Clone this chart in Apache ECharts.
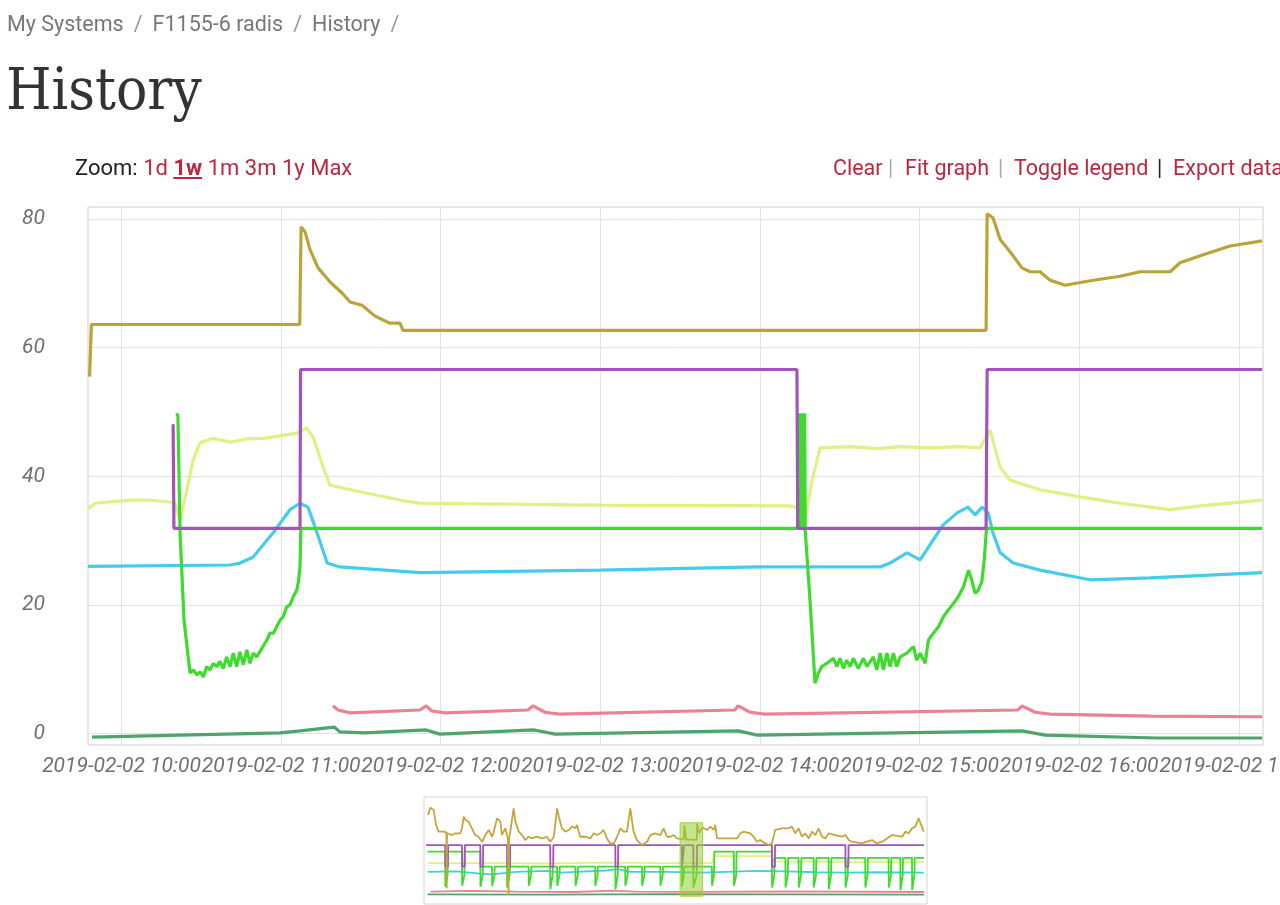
<!DOCTYPE html>
<html>
<head>
<meta charset="utf-8">
<script src="https://cdn.jsdelivr.net/npm/echarts@6/dist/echarts.min.js"></script>
<style>
html,body{margin:0;padding:0;width:1280px;height:905px;overflow:hidden;background:#fff;}
#chart{position:absolute;left:0;top:0;width:1280px;height:905px;}
.hdr{position:absolute;white-space:nowrap;font-family:Roboto,"Noto Sans",sans-serif;z-index:2;}
#crumb{left:7px;top:12px;font-size:21.5px;line-height:24px;color:#777;}
#crumb .sep{color:#999;margin:0 10px;}
#title{left:6px;top:60px;font-family:"DejaVu Serif Condensed","DejaVu Serif",serif;font-stretch:condensed;font-size:58px;line-height:58px;color:#333;}
#zoom{left:75px;top:156px;font-size:22px;line-height:24px;color:#222;}
#zoom a{color:#b8283f;text-decoration:none;}
#zoom a.on{text-decoration:underline;font-weight:bold;}
.lnk{color:#b8283f;}
.bar{color:#aaa;}
.bar2{color:#222;}
.r{top:156px;font-size:21.5px;line-height:24px;}
</style>
</head>
<body>
<div id="chart"></div>
<div class="hdr" id="crumb">My Systems<span class="sep">/</span>F1155-6 radis<span class="sep">/</span>History<span class="sep">/</span></div>
<div class="hdr" id="title">History</div>
<div class="hdr" id="zoom">Zoom: <a>1d</a> <a class="on">1w</a> <a>1m</a> <a>3m</a> <a>1y</a> <a>Max</a></div>
<div class="hdr r lnk" style="left:833px">Clear</div>
<div class="hdr r bar" style="left:888px">|</div>
<div class="hdr r lnk" style="left:905px">Fit graph</div>
<div class="hdr r bar" style="left:998px">|</div>
<div class="hdr r lnk" style="left:1014px">Toggle legend</div>
<div class="hdr r bar2" style="left:1157px">|</div>
<div class="hdr r lnk" style="left:1173px">Export data</div>
<script>
// ---------- main view data (time of day, value) ----------
const xTickHours = [10, 11, 12, 13, 14, 15, 16, 17];
const yTickValues = [0, 20, 40, 60, 80];
const dateLabel = '2019-02-02';

const goldSeries = [
 ['09:48:00',55.5],['09:48:40',63.6],['11:07:00',63.6],['11:07:30',78.8],['11:09:00',78.0],['11:10:54',75.2],
 ['11:13:54',72.4],['11:18:24',70.2],['11:22:54',68.5],['11:25:54',67.1],['11:30:24',66.6],['11:35:18',64.9],
 ['11:40:54',63.8],['11:44:42',63.8],['11:45:48',62.7],['15:25:00',62.7],['15:25:24',80.8],['15:27:36',80.2],
 ['15:30:18',76.8],['15:34:00',74.9],['15:38:30',72.4],['15:41:30',71.8],['15:45:18',71.8],['15:49:00',70.5],
 ['15:54:42',69.7],['16:04:06',70.4],['16:15:24',71.1],['16:22:54',71.8],['16:34:12',71.8],['16:37:54',73.2],
 ['16:45:30',74.3],['16:56:42',75.8],['17:08:48',76.6]
];
const purpleSeries = [
 ['10:19:24',48.1],['10:19:42',31.9],['11:07:06',31.9],['11:07:18',56.6],['14:13:54',56.6],['14:14:12',31.9],
 ['15:25:00',31.9],['15:25:24',56.6],['17:08:48',56.6]
];
const yellowSeries = [
 ['09:47:24',34.9],['09:50:00',35.8],['10:03:12',36.3],['10:10:42',36.3],['10:18:12',36.0],['10:20:06',35.8],
 ['10:22:00',33.2],['10:24:12',37.1],['10:26:54',42.5],['10:29:30',45.2],['10:34:24',45.9],['10:40:48',45.3],
 ['10:47:00',45.8],['10:53:12',45.9],['11:06:00',46.7],['11:09:42',47.5],['11:12:00',46.1],['11:15:48',41.4],
 ['11:18:24',38.6],['11:29:42',37.6],['11:44:42',36.3],['11:52:12',35.8],['12:59:54',35.5],['14:11:18',35.4],
 ['14:13:54',35.1],['14:16:12',31.6],['14:19:36',39.4],['14:22:36',44.4],['14:33:54',44.6],['14:44:00',44.3],
 ['14:52:42',44.6],['15:04:00',44.4],['15:15:12',44.6],['15:22:42',44.4],['15:26:30',47.2],['15:30:18',41.4],
 ['15:34:00',39.4],['15:45:18',37.9],['16:00:18',36.8],['16:15:24',35.8],['16:34:12',34.8],['16:45:30',35.4],
 ['17:08:48',36.3]
];
const cyanSeries = [
 ['09:47:24',26.0],['10:40:48',26.2],['10:44:30',26.5],['10:49:24',27.4],['10:57:00',31.2],['11:03:18',34.8],
 ['11:07:06',35.8],['11:10:06',35.2],['11:13:30',31.2],['11:17:18',26.5],['11:22:06',25.9],['11:52:12',25.0],
 ['12:59:54',25.4],['14:00:00',25.9],['14:45:12',25.9],['14:48:54',26.5],['14:55:18',28.1],['15:00:12',27.0],
 ['15:08:48',32.4],['15:14:06',34.3],['15:18:12',35.2],['15:20:54',34.0],['15:23:30',35.2],['15:25:48',34.3],
 ['15:27:36',31.2],['15:30:18',28.1],['15:35:12',26.5],['15:45:18',25.4],['16:04:06',23.9],['16:26:42',24.2],
 ['17:08:48',25.0]
];
const greenSeries = [
 ['10:20:42',49.8],['10:21:12',49.4],['10:22:00',31.2],['10:23:30',17.6],['10:25:45',9.4],['10:27:00',9.9],
 ['10:28:18',9.1],['10:29:30',9.6],['10:30:45',8.8],['10:32:00',10.4],['10:33:18',9.9],['10:34:30',10.9],
 ['10:35:48',10.4],['10:37:00',11.2],['10:38:18',10.1],['10:39:30',11.9],['10:40:48',10.4],['10:42:00',12.5],
 ['10:43:18',10.4],['10:44:30',12.7],['10:45:48',10.7],['10:47:06',13.0],['10:48:18',10.9],['10:49:30',12.5],
 ['10:50:48',11.9],['10:52:42',13.2],['10:54:36',14.5],['10:55:48',15.6],['10:57:06',15.6],['10:58:18',16.6],
 ['10:59:36',17.6],['11:00:48',18.2],['11:02:06',19.7],['11:03:18',20.0],['11:04:36',21.3],['11:05:54',22.3],
 ['11:06:30',23.6],['11:07:06',25.9],['11:07:24',31.9],['14:14:06',31.9],['14:14:30',49.8],['14:14:54',32.0],
 ['14:15:18',49.8],['14:15:36',32.0],['14:16:00',49.8],['14:16:24',32.0],['14:16:48',49.8],['14:17:00',31.6],
 ['14:18:48',20.8],['14:20:42',7.8],['14:22:00',9.4],['14:23:12',10.4],['14:25:06',10.9],['14:27:36',11.7],
 ['14:28:54',10.4],['14:30:06',11.7],['14:31:24',10.1],['14:32:36',11.4],['14:33:54',10.4],['14:35:06',11.7],
 ['14:37:00',10.1],['14:38:54',11.7],['14:40:12',10.4],['14:42:36',11.9],['14:43:54',9.9],['14:45:12',12.5],
 ['14:46:24',9.9],['14:47:42',12.5],['14:48:54',10.4],['14:50:12',12.5],['14:51:24',10.4],['14:52:42',11.9],
 ['14:55:12',12.5],['14:57:42',13.5],['14:58:54',11.4],['15:00:12',12.5],['15:02:06',10.9],['15:03:18',14.5],
 ['15:05:12',15.6],['15:07:06',16.6],['15:09:00',18.2],['15:10:48',19.2],['15:12:42',20.2],['15:14:36',21.3],
 ['15:16:30',22.8],['15:18:24',25.4],['15:19:36',23.9],['15:20:54',21.8],['15:22:06',22.3],['15:23:24',23.6],
 ['15:24:18',27.0],['15:25:00',31.1],['15:25:12',31.9],['17:08:48',31.9]
];
const pinkSeries = [
 ['11:19:30',4.3],['11:21:24',3.65],['11:25:54',3.2],['11:52:12',3.65],['11:54:30',4.3],['11:56:42',3.5],
 ['12:01:36',3.2],['12:32:48',3.65],['12:34:42',4.3],['12:39:12',3.3],['12:44:48',3.0],['13:50:36',3.65],
 ['13:51:48',4.3],['13:56:18',3.3],['14:01:54',3.0],['15:37:00',3.65],['15:38:30',4.3],['15:43:24',3.3],
 ['15:49:00',3.0],['16:26:42',2.7],['17:08:48',2.6]
];
const darkGreenSeries = [
 ['09:48:54',-0.55],['10:59:36',0.1],['11:07:06',0.4],['11:19:54',1.0],['11:22:06',0.25],['11:31:30',0.1],
 ['11:54:30',0.55],['11:59:42',-0.1],['12:35:06',0.55],['12:43:00',-0.1],['13:51:48',0.4],['13:59:00',-0.25],
 ['15:38:30',0.4],['15:47:12',-0.25],['16:29:18',-0.7],['17:08:48',-0.7]
];

// ---------- navigator data (hours into the week, value) ----------
const navGold = [
 [0.67,90.8],[1.45,99.1],[2.56,96.6],[3.34,79.4],[4.22,71.8],[5.89,71.8],[6.8,71.0],[6.9,7.0],[7.0,70.0],
 [8.67,67.9],[9.78,69.9],[11.45,69.9],[12.0,75.6],[12.56,89.0],[13.1,85.1],[14.2,83.2],[15.3,75.6],[16.4,67.9],
 [17.5,66.0],[18.7,60.3],[19.8,67.9],[20.9,73.7],[22.0,66.0],[22.6,71.8],[23.7,87.0],[24.8,83.2],[25.3,67.9],
 [26.4,75.6],[27.3,64.1],[27.5,-0.5],[27.7,64.1],[28.1,71.8],[29.2,98.4],[29.8,83.2],[30.9,71.8],[32.0,67.9],
 [33.1,62.2],[34.2,66.0],[35.3,64.1],[37.0,66.0],[38.7,64.1],[40.3,66.0],[41.4,60.3],[42.6,66.0],[43.7,98.4],
 [44.4,87.0],[45.3,75.6],[46.4,71.8],[47.6,73.7],[48.7,77.5],[49.8,75.6],[50.3,79.4],[51.4,66.0],[53.1,66.0],
 [54.8,64.1],[55.9,69.9],[57.0,67.9],[58.1,69.9],[59.2,73.7],[60.3,64.1],[61.4,58.4],[62.6,58.4],[63.7,66.0],
 [64.8,75.6],[65.9,71.8],[67.0,71.8],[68.1,98.4],[68.7,83.2],[69.2,71.8],[70.3,62.2],[72.0,56.5],[73.7,60.3],
 [74.8,67.9],[76.4,69.9],[78.1,67.9],[79.2,75.6],[80.3,66.0],[81.4,66.0],[82.6,67.9],[83.7,64.1],[84.7,63.6],
 [86.0,63.6],[86.05,78.8],[86.5,70.0],[86.7,62.7],[90.3,62.7],[90.35,80.8],[91.0,70.5],[92.2,76.6],[92.6,77.5],
 [93.7,73.7],[94.8,77.5],[95.9,73.7],[96.4,79.4],[97.0,64.1],[100.3,64.1],[103.7,64.1],[104.8,69.9],[105.9,71.8],
 [108.1,69.9],[109.2,66.0],[110.3,60.3],[111.4,62.2],[113.1,58.4],[114.2,56.5],[115.3,58.4],[116.4,73.7],
 [118.7,75.6],[120.9,75.6],[122.0,77.5],[123.1,69.9],[124.2,75.6],[125.3,66.0],[126.4,69.9],[127.6,64.1],
 [128.7,71.8],[129.8,67.9],[130.9,75.6],[132.0,66.0],[133.1,64.1],[134.2,69.9],[136.4,67.9],[138.7,66.0],
 [139.8,67.9],[140.9,62.2],[142.0,60.3],[145.3,58.4],[147.0,60.3],[148.7,62.2],[150.3,58.4],[152.0,60.3],
 [153.7,64.1],[155.3,67.9],[158.7,66.0],[159.8,71.8],[160.9,69.9],[162.0,75.6],[163.1,77.5],[164.2,87.0],
 [165.3,77.5],[165.9,71.8]
];
const navPurple = [
 [0,56.5],[6.4,56.5],[6.45,31.9],[7.3,31.9],[7.35,56.5],[12.0,56.5],[12.05,31.9],[12.9,31.9],[12.95,56.5],
 [18.1,56.5],[18.15,31.9],[19.0,31.9],[19.05,56.5],[27.0,56.5],[27.05,31.9],[28.0,31.9],[28.05,56.5],
 [41.4,56.5],[41.45,31.9],[42.4,31.9],[42.45,56.5],[63.1,56.5],[63.15,31.9],[64.0,31.9],[64.05,56.5],
 [85.3,56.5],[85.35,31.9],[86.0,31.9],[86.05,56.5],[89.1,56.5],[89.15,31.9],[90.3,31.9],[90.35,56.5],
 [115.3,56.5],[115.35,31.9],[116.3,31.9],[116.35,56.5],[139.8,56.5],[139.85,31.9],[140.8,31.9],[140.85,56.5],
 [166,56.5]
];
const navGreen = [
 [0.5,49],[6.4,49],[6.45,9],[7.2,22],[7.3,49],[12.0,49],[12.05,10],[12.8,22],[12.9,49],[18.1,49],[18.15,9],
 [18.9,22],[19.0,31.9],[22.0,31.9],[22.05,10],[22.8,22],[22.9,31.9],[27.0,31.9],[27.05,8],[27.9,22],[28.0,31.9],
 [34.2,31.9],[34.25,10],[35.0,22],[35.1,31.9],[41.4,31.9],[41.45,6],[42.2,22],[42.3,31.9],[43.7,31.9],[43.75,10],
 [44.5,22],[44.6,31.9],[49.8,31.9],[49.85,10],[50.6,22],[50.7,31.9],[56.4,31.9],[56.45,10],[57.2,22],[57.3,31.9],
 [63.1,31.9],[63.15,6],[63.9,22],[64.0,31.9],[66.4,31.9],[66.45,10],[67.2,22],[67.3,31.9],[72.0,31.9],[72.05,10],
 [72.8,22],[72.9,31.9],[78.1,31.9],[78.15,10],[78.9,22],[79.0,31.9],[85.3,31.9],[85.35,9],[85.9,22],[86.0,31.9],
 [89.1,31.9],[89.15,8],[90.2,22],[90.3,31.9],[95.3,31.9],[95.35,10],[96.0,22],[96.1,49],[102.6,49],[102.65,10],
 [103.4,22],[103.5,49],[115.3,49],[115.35,8],[116.1,22],[116.2,42],[119.8,42],[119.85,8],[120.6,22],[120.7,42],
 [124.2,42],[124.25,8],[125.0,22],[125.1,42],[129.2,42],[129.25,8],[130.0,22],[130.1,42],[134.2,42],[134.25,6],
 [135.0,22],[135.1,42],[139.8,42],[139.85,8],[140.6,22],[140.7,42],[146.4,42],[146.45,8],[147.2,22],[147.3,42],
 [154.2,42],[154.25,8],[155.0,22],[155.1,42],[158.1,42],[158.15,5],[158.9,22],[159.0,42],[162.0,42],[162.05,5],
 [162.8,22],[162.9,42],[166,42]
];
const navYellow = [
 [0.5,36],[20,36],[40,35.5],[60,36.5],[80,36],[95.3,36],[96,44],[115,44],[116,38],[140,37],[166,37]
];
const navCyan = [
 [0.5,26],[10,26.5],[18,24],[22,23],[30,26],[40,27],[45,25],[50,26],[60,27.5],[64,29],[68,26],[80,26],
 [92,25],[100,26],[110,27],[120,26.5],[130,25.5],[140,25],[150,25.5],[166,25]
];
const navPink = [[1.5,3.3],[15,4.2],[30,3.5],[50,3.0],[62,4.5],[70,3.3],[90,3.2],[120,3.6],[166,3.0]];
const navDarkGreen = [[0.5,0.3],[40,0],[80,0.5],[120,0.2],[166,0]];
const navWindow = [[84.7, -1.8], [92.2, 81.9]];

// ---------- build ----------
function toMin(s) { const p = s.split(':').map(Number); return p[0] * 60 + p[1] + (p[2] || 0) / 60; }
function conv(arr) { return arr.map(d => [toMin(d[0]), d[1]]); }
const xTicks = xTickHours.map(h => h * 60);

const mainDefs = [
  ['Dark green', darkGreenSeries, '#4ea56c'],
  ['Pink', pinkSeries, '#ec8194'],
  ['Cyan', cyanSeries, '#44cdea'],
  ['Yellow', yellowSeries, '#e3ee84'],
  ['Green', greenSeries, '#3ddc2c'],
  ['Purple', purpleSeries, '#a353bb'],
  ['Gold', goldSeries, '#bba437']
];
const navDefs = [
  [navDarkGreen, '#4ea56c'], [navPink, '#ec8194'], [navCyan, '#44cdea'], [navYellow, '#e3ee84'],
  [navGreen, '#3ddc2c'], [navPurple, '#a353bb'], [navGold, '#c4a73a']
];

const series = [];
mainDefs.forEach(d => series.push({
  name: d[0], type: 'line', xAxisIndex: 0, yAxisIndex: 0, data: conv(d[1]),
  showSymbol: false, symbol: 'none', lineStyle: { width: 3.2, color: d[2] }, itemStyle: { color: d[2] },
  animation: false, z: 3
}));
navDefs.forEach(d => series.push({
  type: 'line', xAxisIndex: 1, yAxisIndex: 1, data: d[0], showSymbol: false, symbol: 'none',
  lineStyle: { width: 1.8, color: d[1] }, animation: false, silent: true
}));
series.push({
  type: 'line', xAxisIndex: 1, yAxisIndex: 1, data: [], silent: true, animation: false,
  markArea: { silent: true, z: 10,
    itemStyle: { color: 'rgba(150,205,50,0.55)', borderColor: '#a6d040', borderWidth: 1 },
    data: [[{ xAxis: navWindow[0][0], yAxis: navWindow[0][1] }, { xAxis: navWindow[1][0], yAxis: navWindow[1][1] }]] }
});

const labelFont = { fontFamily: 'Roboto', fontStyle: 'italic', fontSize: 21, color: '#707070' };
const chart = echarts.init(document.getElementById('chart'), null, { renderer: 'canvas' });
chart.setOption({
  animation: false,
  backgroundColor: '#fff',
  grid: [
    { left: 88, right: 17, top: 207, bottom: 160, show: true, borderColor: '#cfcfcf', borderWidth: 1,
      backgroundColor: '#fff', containLabel: false, outerBoundsMode: 'none' },
    { left: 424, width: 503, top: 797, height: 107, show: true, borderColor: '#d4d4d4', borderWidth: 1,
      backgroundColor: '#fff', containLabel: false, outerBoundsMode: 'none' }
  ],
  xAxis: [
    { type: 'value', gridIndex: 0, min: 587.4, max: 1029.1,
      axisLine: { show: false }, axisTick: { show: false, customValues: xTicks },
      splitLine: { show: true, lineStyle: { color: '#e2e2e2', width: 1 } },
      axisLabel: Object.assign({ customValues: xTicks, margin: 11, hideOverlap: false,
        formatter: v => dateLabel + ' ' + String(Math.round(v / 60)).padStart(2, '0') + ':00' }, labelFont) },
    { type: 'value', gridIndex: 1, min: -0.67, max: 167, show: false }
  ],
  yAxis: [
    { type: 'value', gridIndex: 0, min: -1.79, max: 81.87,
      axisLine: { show: false }, axisTick: { show: false, customValues: yTickValues },
      splitLine: { show: true, lineStyle: { color: '#e2e2e2', width: 1 } },
      axisLabel: Object.assign({ customValues: yTickValues, margin: 43 }, labelFont) },
    { type: 'value', gridIndex: 1, min: -10.7, max: 111.3, show: false }
  ],
  series: series
});
</script>
</body>
</html>
